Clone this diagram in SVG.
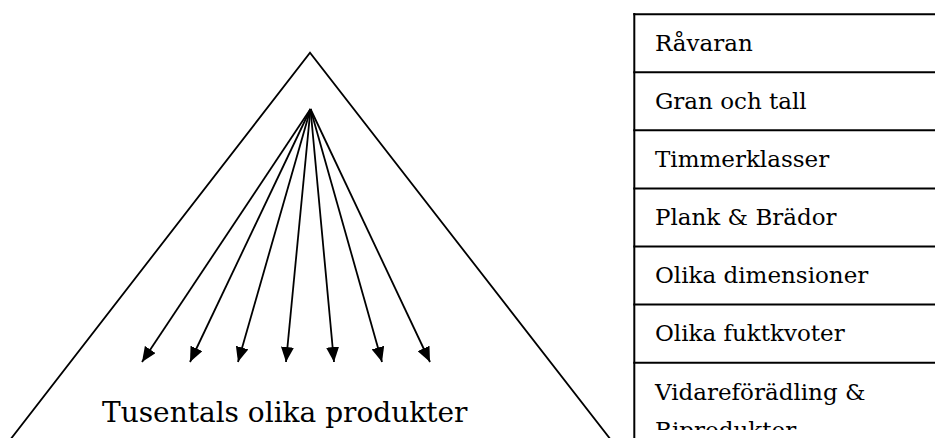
<svg xmlns="http://www.w3.org/2000/svg" width="935" height="438" viewBox="0 0 935 438">
  <style>
    .edge { fill: none; stroke: #000; stroke-width: 1.8; }
    .tri { fill: none; stroke: #000; stroke-width: 1.8; stroke-linejoin: miter; }
    .grid { stroke: #000; stroke-width: 2; }
    .cell { font-family: "DejaVu Serif", "Liberation Serif", serif; font-size: 23px; fill: #000; }
    .big { font-family: "DejaVu Serif", "Liberation Serif", serif; font-size: 28px; fill: #000; }
  </style>
  <defs>
    <marker id="ah" markerUnits="userSpaceOnUse" markerWidth="16" markerHeight="13" refX="15" refY="6.5" orient="auto">
      <path d="M0,0 L15,6.5 L0,13 z" fill="#000"/>
    </marker>
    <clipPath id="clipBottom">
      <rect x="0" y="0" width="935" height="430"/>
    </clipPath>
  </defs>
  <rect width="935" height="438" fill="#fff"/>

  <g id="pyramid">
    <polyline class="tri" points="10,440 310,52.7 611,440"/>
    <text class="big" x="102" y="422">Tusentals olika produkter</text>
  </g>

  <g id="connectors">
    <line class="edge" x1="310.5" y1="109" x2="142" y2="362" marker-end="url(#ah)"/>
    <line class="edge" x1="310.5" y1="109" x2="190" y2="362" marker-end="url(#ah)"/>
    <line class="edge" x1="310.5" y1="109" x2="238" y2="362" marker-end="url(#ah)"/>
    <line class="edge" x1="310.5" y1="109" x2="286" y2="362" marker-end="url(#ah)"/>
    <line class="edge" x1="310.5" y1="109" x2="334" y2="362" marker-end="url(#ah)"/>
    <line class="edge" x1="310.5" y1="109" x2="382" y2="362" marker-end="url(#ah)"/>
    <line class="edge" x1="310.5" y1="109" x2="430" y2="362" marker-end="url(#ah)"/>
  </g>

  <g id="table">
    <line class="grid" x1="634.3" y1="13" x2="634.3" y2="438"/>
    <line class="grid" x1="633.3" y1="14.3" x2="935" y2="14.3"/>
    <line class="grid" x1="633.3" y1="72.2" x2="935" y2="72.2"/>
    <line class="grid" x1="633.3" y1="130.3" x2="935" y2="130.3"/>
    <line class="grid" x1="633.3" y1="188.4" x2="935" y2="188.4"/>
    <line class="grid" x1="633.3" y1="246.5" x2="935" y2="246.5"/>
    <line class="grid" x1="633.3" y1="304.6" x2="935" y2="304.6"/>
    <line class="grid" x1="633.3" y1="362.7" x2="935" y2="362.7"/>
  </g>
  <g id="row1"><text class="cell" x="655" y="50.6">Råvaran</text></g>
  <g id="row2"><text class="cell" x="655" y="108.6">Gran och tall</text></g>
  <g id="row3"><text class="cell" x="655" y="166.7">Timmerklasser</text></g>
  <g id="row4"><text class="cell" x="655" y="224.8">Plank &amp; Brädor</text></g>
  <g id="row5"><text class="cell" x="655" y="282.9">Olika dimensioner</text></g>
  <g id="row6"><text class="cell" x="655" y="341">Olika fuktkvoter</text></g>
  <g id="row7" clip-path="url(#clipBottom)">
    <text class="cell" x="655" y="399.5">Vidareförädling &amp;</text>
    <text class="cell" x="655" y="438">Biprodukter</text>
  </g>
</svg>
